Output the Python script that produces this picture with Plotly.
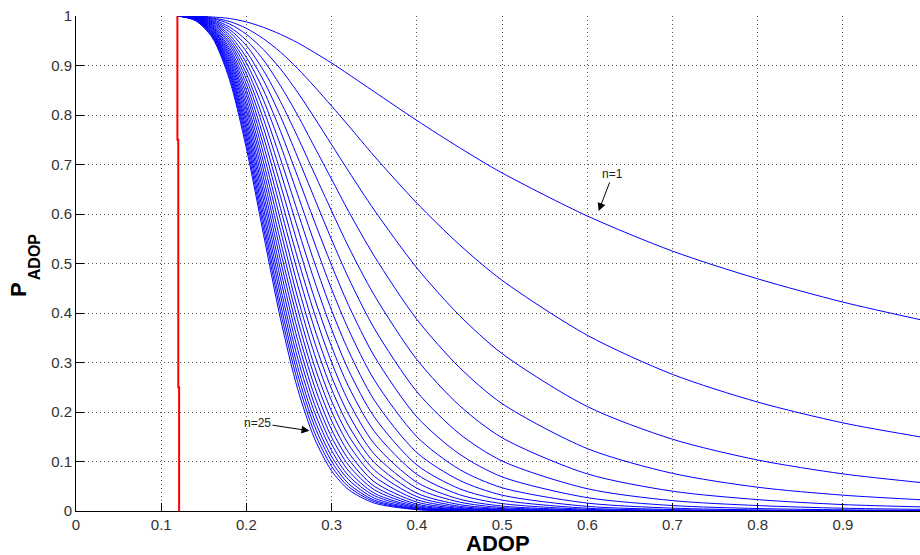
import plotly.graph_objects as go

# ADOP sample positions (x)
adop = [0.12, 0.14, 0.16, 0.18, 0.20, 0.22, 0.24, 0.26, 0.28, 0.30,
        0.32, 0.35, 0.40, 0.45, 0.50, 0.60, 0.70, 0.80, 0.90, 1.00]

# P_ADOP curves for n = 1 .. 25 (values read/estimated from the picture)
p_n01 = [1.0, 1.0, 0.998, 0.995, 0.988, 0.977, 0.963, 0.946, 0.926, 0.905, 0.882, 0.847, 0.789, 0.734, 0.683, 0.596, 0.525, 0.469, 0.422, 0.383]
p_n02 = [1.0, 0.999, 0.996, 0.989, 0.975, 0.954, 0.927, 0.894, 0.857, 0.818, 0.778, 0.717, 0.622, 0.538, 0.466, 0.355, 0.276, 0.220, 0.178, 0.147]
p_n03 = [1.0, 0.999, 0.995, 0.984, 0.963, 0.932, 0.893, 0.846, 0.794, 0.740, 0.686, 0.608, 0.491, 0.395, 0.318, 0.211, 0.145, 0.103, 0.075, 0.056]
p_n04 = [1.0, 0.999, 0.993, 0.978, 0.951, 0.911, 0.859, 0.800, 0.735, 0.670, 0.605, 0.515, 0.387, 0.290, 0.217, 0.126, 0.076, 0.048, 0.032, 0.022]
p_n05 = [1.0, 0.998, 0.991, 0.973, 0.940, 0.890, 0.827, 0.756, 0.681, 0.606, 0.533, 0.436, 0.306, 0.213, 0.148, 0.075, 0.040, 0.023, 0.013, 0.008]
p_n06 = [1.0, 0.998, 0.989, 0.968, 0.928, 0.870, 0.797, 0.715, 0.631, 0.548, 0.470, 0.369, 0.241, 0.156, 0.101, 0.045, 0.021, 0.011, 0.0056, 0.0032]
p_n07 = [1.0, 0.998, 0.988, 0.962, 0.916, 0.850, 0.767, 0.676, 0.584, 0.496, 0.415, 0.313, 0.190, 0.115, 0.069, 0.027, 0.011, 0.0050, 0.0024, 0.0012]
p_n08 = [1.0, 0.997, 0.986, 0.957, 0.905, 0.830, 0.739, 0.640, 0.541, 0.448, 0.366, 0.265, 0.150, 0.084, 0.047, 0.016, 0.0058, 0.0023, 0.0010, 0.0005]
p_n09 = [1.0, 0.997, 0.984, 0.952, 0.894, 0.811, 0.711, 0.605, 0.501, 0.405, 0.323, 0.224, 0.118, 0.062, 0.032, 0.0094, 0.0030, 0.0011, 0.0004, 0.0002]
p_n10 = [1.0, 0.996, 0.982, 0.947, 0.883, 0.792, 0.685, 0.572, 0.464, 0.367, 0.284, 0.190, 0.093, 0.045, 0.022, 0.0056, 0.0016, 0.0005, 0.0002, 0.0001]
p_n11 = [1.0, 0.996, 0.981, 0.942, 0.872, 0.774, 0.659, 0.541, 0.429, 0.332, 0.251, 0.161, 0.074, 0.033, 0.015, 0.0034, 0.0008, 0.0002, 0.0001, 0.0]
p_n12 = [1.0, 0.996, 0.979, 0.936, 0.861, 0.756, 0.635, 0.511, 0.398, 0.300, 0.221, 0.136, 0.058, 0.024, 0.010, 0.0020, 0.0004, 0.0001, 0.0, 0.0]
p_n13 = [1.0, 0.995, 0.977, 0.931, 0.850, 0.739, 0.611, 0.484, 0.368, 0.271, 0.195, 0.115, 0.046, 0.018, 0.0070, 0.0012, 0.0002, 0.0, 0.0, 0.0]
p_n14 = [1.0, 0.995, 0.975, 0.926, 0.840, 0.722, 0.588, 0.457, 0.341, 0.246, 0.172, 0.098, 0.036, 0.013, 0.0048, 0.0007, 0.0001, 0.0, 0.0, 0.0]
p_n15 = [1.0, 0.995, 0.974, 0.921, 0.829, 0.705, 0.567, 0.432, 0.316, 0.222, 0.152, 0.083, 0.029, 0.0096, 0.0033, 0.0004, 0.0001, 0.0, 0.0, 0.0]
p_n16 = [1.0, 0.994, 0.972, 0.916, 0.819, 0.689, 0.545, 0.409, 0.292, 0.201, 0.134, 0.070, 0.023, 0.0071, 0.0022, 0.0003, 0.0, 0.0, 0.0, 0.0]
p_n17 = [1.0, 0.994, 0.970, 0.911, 0.809, 0.673, 0.525, 0.387, 0.271, 0.182, 0.118, 0.059, 0.018, 0.0052, 0.0015, 0.0002, 0.0, 0.0, 0.0, 0.0]
p_n18 = [1.0, 0.994, 0.968, 0.906, 0.799, 0.657, 0.506, 0.366, 0.251, 0.164, 0.104, 0.050, 0.014, 0.0038, 0.0010, 0.0001, 0.0, 0.0, 0.0, 0.0]
p_n19 = [1.0, 0.993, 0.967, 0.901, 0.789, 0.642, 0.487, 0.346, 0.232, 0.149, 0.092, 0.043, 0.011, 0.0028, 0.0007, 0.0001, 0.0, 0.0, 0.0, 0.0]
p_n20 = [1.0, 0.993, 0.965, 0.896, 0.779, 0.628, 0.469, 0.327, 0.215, 0.135, 0.081, 0.036, 0.0087, 0.0020, 0.0005, 0.0, 0.0, 0.0, 0.0, 0.0]
p_n21 = [1.0, 0.993, 0.963, 0.891, 0.770, 0.613, 0.451, 0.309, 0.199, 0.122, 0.071, 0.031, 0.0069, 0.0015, 0.0003, 0.0, 0.0, 0.0, 0.0, 0.0]
p_n22 = [1.0, 0.992, 0.962, 0.887, 0.760, 0.599, 0.435, 0.292, 0.184, 0.110, 0.063, 0.026, 0.0054, 0.0011, 0.0002, 0.0, 0.0, 0.0, 0.0, 0.0]
p_n23 = [1.0, 0.992, 0.960, 0.882, 0.751, 0.585, 0.418, 0.277, 0.171, 0.100, 0.055, 0.022, 0.0043, 0.0008, 0.0002, 0.0, 0.0, 0.0, 0.0, 0.0]
p_n24 = [1.0, 0.991, 0.958, 0.877, 0.741, 0.572, 0.403, 0.262, 0.158, 0.090, 0.049, 0.019, 0.0034, 0.0006, 0.0001, 0.0, 0.0, 0.0, 0.0, 0.0]
p_n25 = [1.0, 0.991, 0.956, 0.872, 0.732, 0.559, 0.388, 0.247, 0.146, 0.081, 0.043, 0.016, 0.0027, 0.0004, 0.0001, 0.0, 0.0, 0.0, 0.0, 0.0]

curves = [p_n01, p_n02, p_n03, p_n04, p_n05, p_n06, p_n07, p_n08, p_n09, p_n10,
          p_n11, p_n12, p_n13, p_n14, p_n15, p_n16, p_n17, p_n18, p_n19, p_n20,
          p_n21, p_n22, p_n23, p_n24, p_n25]

# red threshold line (nearly vertical)
red_x = [0.119, 0.119, 0.120, 0.120, 0.121, 0.121]
red_y = [1.0, 0.75, 0.75, 0.25, 0.25, 0.0]

x_ticks = [0, 0.1, 0.2, 0.3, 0.4, 0.5, 0.6, 0.7, 0.8, 0.9]
x_tick_labels = ["0", "0.1", "0.2", "0.3", "0.4", "0.5", "0.6", "0.7", "0.8", "0.9"]
y_ticks = [0, 0.1, 0.2, 0.3, 0.4, 0.5, 0.6, 0.7, 0.8, 0.9, 1.0]
y_tick_labels = ["0", "0.1", "0.2", "0.3", "0.4", "0.5", "0.6", "0.7", "0.8", "0.9", "1"]

FONT = "Liberation Sans, Arial, Helvetica, sans-serif"

fig = go.Figure()
for i, ys in enumerate(curves):
    fig.add_trace(go.Scatter(
        x=adop, y=ys, mode="lines", name=f"n={i + 1}",
        line=dict(color="#0000FF", width=1, shape="spline", smoothing=0.8),
        showlegend=False, hoverinfo="skip"))

fig.add_trace(go.Scatter(
    x=red_x, y=red_y, mode="lines", line=dict(color="#FF0000", width=2),
    showlegend=False, hoverinfo="skip"))

axis_common = dict(
    showgrid=True, gridcolor="#555555", gridwidth=1, griddash="1px,3px",
    zeroline=False, showline=True, linecolor="#000000", linewidth=1,
    ticks="inside", ticklen=8, tickcolor="#000000", tickwidth=1,
    tickfont=dict(family=FONT, size=15, color="#333333"),
)

fig.update_layout(
    width=920, height=555,
    margin=dict(l=76, r=0, t=16, b=44),
    paper_bgcolor="white", plot_bgcolor="white",
    xaxis=dict(range=[0, 0.9904], tickvals=x_ticks, ticktext=x_tick_labels,
               **axis_common),
    yaxis=dict(range=[0, 1], tickvals=y_ticks, ticktext=y_tick_labels,
               **axis_common),
    annotations=[
        dict(text="<b>ADOP</b>", xref="paper", yref="paper", x=0.5, y=-0.066,
             xanchor="center", yanchor="middle", showarrow=False,
             font=dict(family=FONT, size=22, color="#000000")),
        dict(text="<b>P</b>", xref="paper", yref="paper", x=-0.069, y=0.448,
             xanchor="center", yanchor="middle", showarrow=False, textangle=-90,
             font=dict(family=FONT, size=22, color="#000000")),
        dict(text="<b>ADOP</b>", xref="paper", yref="paper", x=-0.049, y=0.514,
             xanchor="center", yanchor="middle", showarrow=False, textangle=-90,
             font=dict(family=FONT, size=16, color="#000000")),
        dict(text="n=1", x=0.6133, y=0.606, ax=0.630, ay=0.681,
             xref="x", yref="y", axref="x", ayref="y",
             showarrow=True, arrowhead=2, arrowsize=1.6, arrowwidth=1,
             arrowcolor="#000000", standoff=0,
             font=dict(family=FONT, size=12, color="#222222")),
        dict(text="n=25", x=0.274, y=0.162, ax=0.213, ay=0.178,
             xref="x", yref="y", axref="x", ayref="y",
             showarrow=True, arrowhead=2, arrowsize=1.6, arrowwidth=1,
             arrowcolor="#000000", standoff=0,
             font=dict(family=FONT, size=12, color="#222222")),
    ],
)

fig.write_html("out.html")
